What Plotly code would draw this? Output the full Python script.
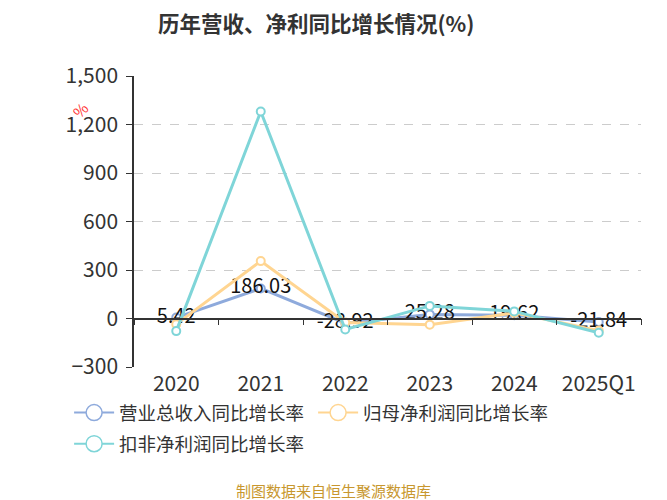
import plotly.graph_objects as go

# 数据
years = ["2020", "2021", "2022", "2023", "2024", "2025Q1"]
revenue_yoy = [5.42, 186.03, -28.92, 25.28, 19.62, -21.84]
parent_profit_yoy = [-35, 355, -25, -38, 35, -75]
deducted_profit_yoy = [-78, 1280, -68, 78, 44, -88]

series_names = ["营业总收入同比增长率", "归母净利润同比增长率", "扣非净利润同比增长率"]
series_values = [revenue_yoy, parent_profit_yoy, deducted_profit_yoy]
colors = ["#8eaadc", "#ffd591", "#7fd5d8"]
legend_ids = ["legend", "legend", "legend2"]

y_ticks = [-300, 0, 300, 600, 900, 1200, 1500]

font_family = "Noto Sans CJK SC"

fig = go.Figure()

for name, vals, color in zip(series_names, series_values, colors):
    is_rev = name == series_names[0]
    fig.add_trace(go.Scatter(
        x=years, y=vals, name=name,
        mode="lines+markers+text" if is_rev else "lines+markers",
        text=[f"{v:.2f}" for v in vals] if is_rev else None,
        textposition="middle center",
        textfont=dict(size=20, color="#111111", family=font_family),
        line=dict(color=color, width=3),
        marker=dict(size=8, color="white", line=dict(color=color, width=2)),
        showlegend=False,
        cliponaxis=False,
    ))

# 图例用的大号符号
for name, color, lg in zip(series_names, colors, legend_ids):
    fig.add_trace(go.Scatter(
        x=[None], y=[None], name=name, mode="lines+markers",
        line=dict(color=color, width=2),
        marker=dict(size=19, color="white", line=dict(color=color, width=1.5)),
        showlegend=True, legend=lg,
    ))

# 零点处的 x 轴线和刻度
fig.add_trace(go.Scatter(x=years, y=[None] * len(years), xaxis="x2",
                         showlegend=False, hoverinfo="skip"))

legend_style = dict(
    orientation="h", x=-0.128, xanchor="left", yanchor="top",
    font=dict(size=18.5, color="#333333"),
    entrywidth=189, entrywidthmode="pixels", itemwidth=40,
    bgcolor="rgba(0,0,0,0)",
)

fig.update_layout(
    width=660, height=493,
    margin=dict(l=126, r=27, t=68, b=134),
    paper_bgcolor="white", plot_bgcolor="white",
    font=dict(family=font_family, color="#333333"),
    title=dict(text="<b>历年营收、净利同比增长情况(%)</b>", x=0.467, xanchor="center",
               y=0.966, yanchor="middle", font=dict(size=21.5, color="#333333")),
    xaxis=dict(
        type="category", range=[-0.5, 5.5], showline=False, showgrid=False, ticks="",
        tickfont=dict(size=21, color="#333333"), ticklabelstandoff=2,
    ),
    xaxis2=dict(
        type="category", range=[-0.5, 5.5], overlaying="x", anchor="free",
        position=1 / 6, side="bottom",
        showline=True, linecolor="#333333", linewidth=1.5,
        ticks="outside", ticklen=6, tickcolor="#333333", tickson="boundaries",
        showticklabels=False, showgrid=False,
    ),
    yaxis=dict(
        range=[-300, 1500], tickvals=y_ticks, tickformat=",",
        showline=True, linecolor="#333333", linewidth=1.5,
        ticks="outside", ticklen=6, tickcolor="#333333", ticklabelstandoff=4,
        showgrid=True, gridcolor="#cccccc", griddash="dash", gridwidth=1,
        zeroline=False, tickfont=dict(size=21, color="#333333"),
    ),
    legend=dict(y=-0.093, **legend_style),
    legend2=dict(y=-0.2, **legend_style),
    annotations=[
        dict(text="%", xref="paper", yref="paper", x=-0.106, y=0.885,
             xanchor="center", yanchor="middle",
             showarrow=False, textangle=-45,
             font=dict(size=15, color="#ff3333")),
        dict(text="制图数据来自恒生聚源数据库", xref="paper", yref="paper",
             x=0.394, y=-0.425, xanchor="center", yanchor="middle", showarrow=False,
             font=dict(size=15, color="#c8972e")),
    ],
)

fig.write_html("out.html")
